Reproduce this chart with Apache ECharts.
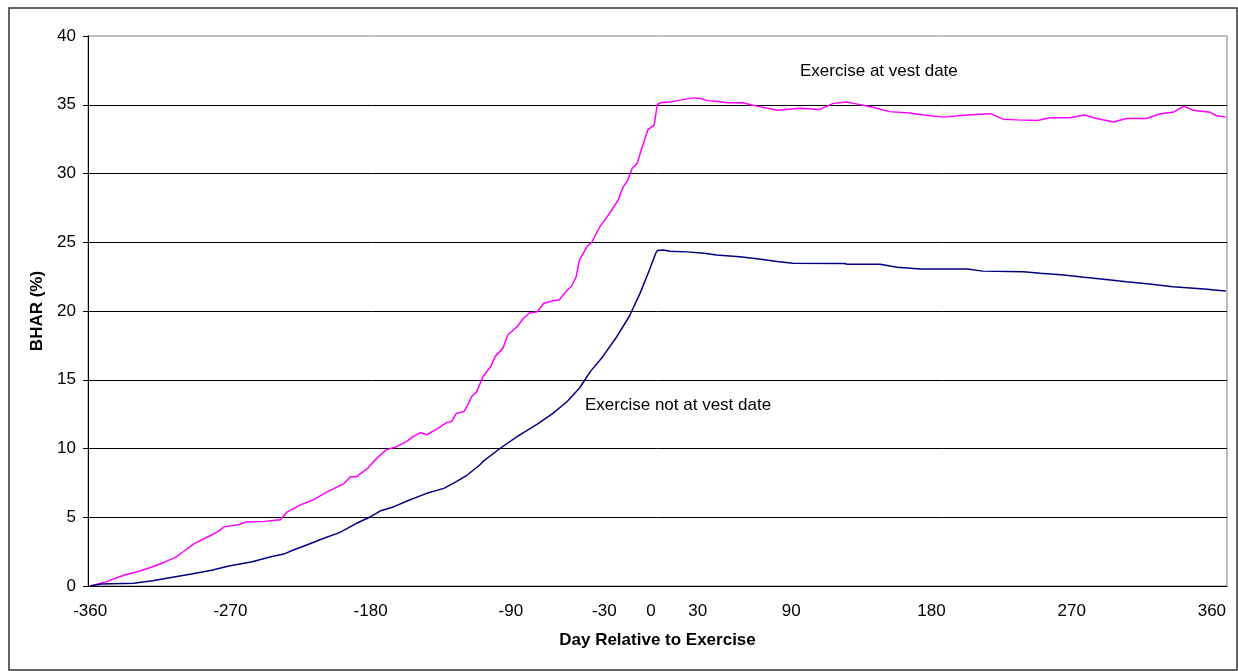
<!DOCTYPE html>
<html style="height: 100%">

<head>
  <meta charset="utf-8">
  <script src="https://cdn.jsdelivr.net/npm/echarts@6/dist/echarts.min.js"></script>
</head>

<body style="height: 100%; margin: 0; background: #fff">
  <div id="main" style="width: 1238px; height: 671px"></div>

  <script type="text/javascript">
    // x tick labels (days relative to exercise)
    var dayTicks = [-360, -270, -180, -90, -30, 0, 30, 90, 180, 270, 360];

    // Exercise at vest date
    var vestDays = [-360, -350, -338, -329, -320, -312, -305, -299, -293, -284, -278, -274, -265, -260, -248, -240, -238,
      -234, -225, -217, -208, -197, -193, -189, -182, -176, -170, -163, -157, -153, -148, -144, -137, -131, -128, -125,
      -120, -117, -115, -112, -108, -103, -100, -95, -92, -86, -82, -78, -73, -69, -63, -59, -54, -51, -48, -46, -41,
      -38, -33, -26, -21, -18, -15, -12, -9, -6, -2, 2, 4, 6, 12, 17, 27, 32, 36, 42, 49, 59, 64, 68, 81, 96, 108, 117,
      126, 130, 141, 153, 166, 175, 188, 203, 218, 226, 235, 248, 256, 269, 278, 286, 297, 305, 318, 327, 335, 342, 348,
      359, 363, 369];
    var vestBhar = [0, 0.3, 0.8, 1.05, 1.4, 1.75, 2.1, 2.6, 3.1, 3.6, 3.95, 4.3, 4.45, 4.65, 4.7, 4.8, 4.8,
      5.35, 5.9, 6.25, 6.85, 7.45, 7.95, 7.95, 8.55, 9.3, 9.9, 10.15, 10.5, 10.85, 11.15, 11.0, 11.45, 11.9, 11.95, 12.55,
      12.7, 13.3, 13.8, 14.1, 15.2, 15.95, 16.7, 17.3, 18.25, 18.85, 19.45, 19.85, 19.95, 20.55, 20.75, 20.8, 21.5, 21.8, 22.5, 23.7, 24.7,
      25.0, 26.1, 27.2, 28.1, 29.0, 29.5, 30.4, 30.7, 31.8, 33.2, 33.5, 35.0, 35.15, 35.2, 35.3, 35.5, 35.45, 35.3, 35.25, 35.15, 35.15, 35.0, 34.9, 34.6, 34.75, 34.65, 35.1,
      35.2, 35.1, 34.85, 34.5, 34.4, 34.25, 34.1, 34.25, 34.35, 33.95, 33.9, 33.85, 34.05, 34.05, 34.25, 34.0, 33.75, 34.0, 34.0, 34.35, 34.45, 34.9, 34.6,
      34.45, 34.2, 34.1];

    // Exercise not at vest date
    var nonVestDays = [-360, -353, -332, -320, -308, -295, -282, -271, -256, -244, -235, -230, -221, -210, -200, -189,
      -180, -174, -165, -155, -144, -133, -125, -118, -110, -108, -97, -86, -73, -63, -54, -46, -39, -31, -22, -14, -7,
      -1, 3, 4, 8, 12, 23, 34, 42, 57, 68, 81, 91, 124, 126, 147, 158, 173, 203, 213, 239, 250, 265, 278, 295, 305, 320,
      335, 355, 367, 369];
    var nonVestBhar = [0, 0.15, 0.2, 0.38, 0.62, 0.87, 1.15, 1.45, 1.77, 2.13, 2.35, 2.6, 2.98, 3.47, 3.88, 4.56,
      5.04, 5.45, 5.77, 6.25, 6.74, 7.1, 7.59, 8.07, 8.8, 9.04, 10.0, 10.86, 11.78, 12.56, 13.4, 14.38, 15.59, 16.68, 18.13, 19.6, 21.3,
      23.0, 24.2, 24.4, 24.44, 24.35, 24.3, 24.2, 24.07, 23.95, 23.8, 23.6, 23.47, 23.45, 23.4, 23.4, 23.18, 23.05, 23.05, 22.9, 22.86, 22.74, 22.62, 22.45, 22.25, 22.13, 21.96,
      21.77, 21.6, 21.48, 21.45];

    function pairs(xs, ys) {
      var out = [];
      for (var i = 0; i < xs.length; i++) out.push([xs[i], ys[i]]);
      return out;
    }

    var font = 'Liberation Sans, Arial, sans-serif';
    var myChart = echarts.init(document.getElementById('main'));
    var option = {
      animation: false,
      backgroundColor: '#fff',
      textStyle: { fontFamily: font },
      grid: {
        left: 88, top: 36, right: 11, bottom: 85,
        show: true, borderColor: '#808080', borderWidth: 1
      },
      xAxis: {
        type: 'value',
        min: -361.4,
        max: 369.7,
        name: 'Day Relative to Exercise',
        nameLocation: 'middle',
        nameGap: 46,
        nameTextStyle: { fontFamily: font, fontSize: 17, fontWeight: 'bold', color: '#000' },
        axisLine: { onZero: false, lineStyle: { color: '#000', width: 1 } },
        axisTick: { show: false },
        splitLine: { show: false },
        axisLabel: {
          customValues: dayTicks,
          margin: 17,
          fontFamily: font, fontSize: 17, color: '#000'
        }
      },
      yAxis: {
        type: 'value',
        min: 0, max: 40, interval: 5,
        name: 'BHAR (%)',
        nameLocation: 'middle',
        nameGap: 34,
        nameTextStyle: { fontFamily: font, fontSize: 17, fontWeight: 'bold', color: '#000' },
        axisLine: { show: true, onZero: false, lineStyle: { color: '#000', width: 1 } },
        axisTick: { show: true, length: 5, lineStyle: { color: '#000' } },
        axisLabel: { margin: 12, fontFamily: font, fontSize: 17, color: '#000' },
        splitLine: { show: true, showMaxLine: false, lineStyle: { color: '#000', width: 1 } }
      },
      graphic: [
        {
          type: 'rect', silent: true,
          shape: { x: 9, y: 8, width: 1228, height: 662 },
          style: { fill: 'none', stroke: '#333', lineWidth: 1.5 }
        },
        {
          type: 'text', left: 800, top: 63,
          style: { text: 'Exercise at vest date', font: '17px ' + font, fill: '#000' }
        },
        {
          type: 'text', left: 585, top: 397,
          style: { text: 'Exercise not at vest date', font: '17px ' + font, fill: '#000' }
        }
      ],
      series: [
        {
          name: 'Exercise at vest date',
          type: 'line',
          showSymbol: false,
          lineStyle: { color: '#FF00FF', width: 1.5 },
          itemStyle: { color: '#FF00FF' },
          data: pairs(vestDays, vestBhar)
        },
        {
          name: 'Exercise not at vest date',
          type: 'line',
          showSymbol: false,
          lineStyle: { color: '#000080', width: 1.5 },
          itemStyle: { color: '#000080' },
          data: pairs(nonVestDays, nonVestBhar)
        }
      ]
    };
    myChart.setOption(option, true);
  </script>
</body>

</html>
